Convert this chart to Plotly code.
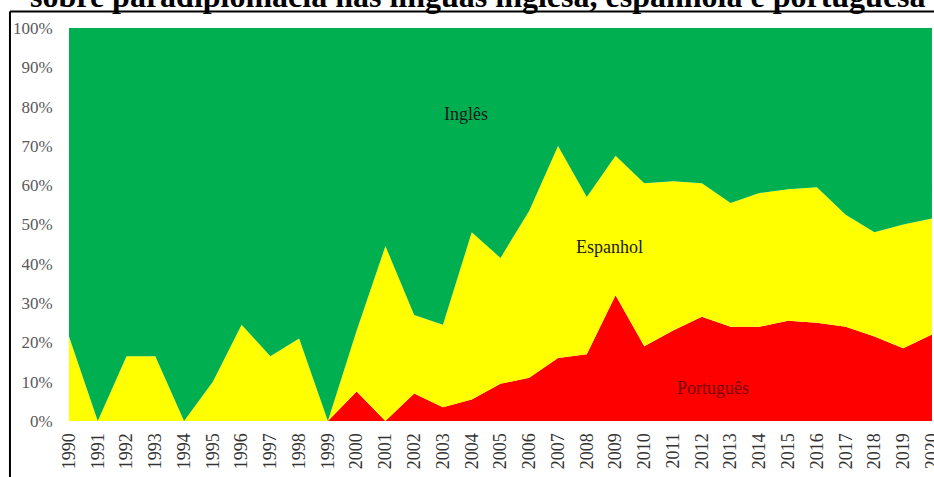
""" Stacked area chart: share of publications on paradiplomacy by language """

from plotly import graph_objects as go

years = list(range(1990, 2021))

# share of publications per year (%)
portugues = [0, 0, 0, 0, 0, 0, 0, 0, 0, 0,
             7.5, 0, 7, 3.5, 5.5, 9.5, 11, 16, 17, 32,
             19, 23, 26.5, 24, 24, 25.5, 25, 24, 21.5, 18.5, 22]
espanhol = [21.5, 0, 16.5, 16.5, 0, 10, 24.5, 16.5, 21, 0,
            15.5, 44.5, 20, 21, 42.5, 32, 42.5, 54, 40, 35.5,
            41.5, 38, 34, 31.5, 34, 33.5, 34.5, 28.5, 26.5, 31.5, 29.5]
ingles = [78.5, 100, 83.5, 83.5, 100, 90, 75.5, 83.5, 79, 100,
          77, 55.5, 73, 75.5, 52, 58.5, 46.5, 30, 43, 32.5,
          39.5, 39, 39.5, 44.5, 42, 41, 40.5, 47.5, 52, 50, 48.5]

series = [
    ("Português", portugues, "#FF0000"),
    ("Espanhol", espanhol, "#FFFF00"),
    ("Inglês", ingles, "#00B050"),
]

# label positions (year, %) for the in-chart series names
labels = [
    ("Inglês", 2003.8, 78, "#1a1a1a"),
    ("Espanhol", 2008.8, 44.3, "#1a1a1a"),
    ("Português", 2012.4, 8.4, "#7a0000"),
]

title = "sobre paradiplomacia nas línguas inglesa, espanhola e portuguesa"

SERIF = "Liberation Serif, Times New Roman, serif"

fig = go.Figure()
for name, values, color in series:
    fig.add_trace(
        go.Scatter(
            x=years,
            y=values,
            name=name,
            mode="lines",
            stackgroup="one",
            line=dict(width=0, color=color),
            fillcolor=color,
            hoverinfo="skip",
        )
    )

for text, x, y, color in labels:
    fig.add_annotation(
        x=x, y=y, text=text, showarrow=False,
        font=dict(family=SERIF, size=18, color=color),
    )

# title, cut at the top edge as in the source image
fig.add_annotation(
    x=0.474, y=1.0305, xref="paper", yref="paper",
    xanchor="center", yanchor="bottom",
    text=f"<b>{title}</b>", showarrow=False,
    font=dict(family=SERIF, size=32, color="black"),
)

# black frame lines (top and left)
fig.add_shape(type="line", xref="paper", yref="paper",
              x0=-0.0684, x1=1.01, y0=1.042, y1=1.042,
              line=dict(color="black", width=2))
fig.add_shape(type="line", xref="paper", yref="paper",
              x0=-0.0684, x1=-0.0684, y0=1.042, y1=-0.2,
              line=dict(color="black", width=2))

fig.update_layout(
    width=934,
    height=477,
    margin={"l": 69, "r": 2, "t": 28, "b": 56},
    paper_bgcolor="white",
    plot_bgcolor="white",
    showlegend=False,
    xaxis=dict(
        range=[1990, 2020.001],
        automargin=False,
        tickmode="array",
        tickvals=years,
        ticktext=[str(y) for y in years],
        tickangle=-90,
        ticklabeloverflow="allow",
        showgrid=False,
        zeroline=False,
        showline=False,
        ticks="outside",
        ticklen=4,
        tickcolor="white",
        tickfont=dict(family=SERIF, size=18, color="#333333"),
    ),
    yaxis=dict(
        range=[0, 100],
        automargin=False,
        tickmode="array",
        tickvals=list(range(0, 101, 10)),
        ticktext=[f"{v}%" for v in range(0, 101, 10)],
        showgrid=False,
        zeroline=False,
        showline=False,
        ticks="outside",
        ticklen=12,
        tickcolor="white",
        tickfont=dict(family=SERIF, size=17, color="#595959"),
    ),
)

# page body has a default 8px margin; drop it so the figure fills the window
fig.write_html(
    "out.html",
    config={"displayModeBar": False},
    post_script="document.body.style.margin='0';",
)
